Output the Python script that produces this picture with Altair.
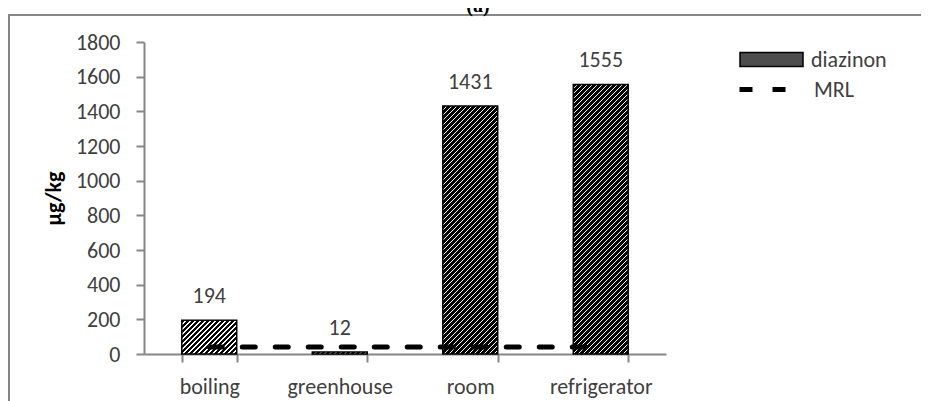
import altair as alt
import pandas as pd

categories = ["boiling", "greenhouse", "room", "refrigerator"]
diazinon = [194, 12, 1431, 1555]
mrl = [40, 40, 40, 40]
y_ticks = [0, 200, 400, 600, 800, 1000, 1200, 1400, 1600, 1800]
chart_label = "(a)"

FONT = "Carlito, Lato, sans-serif"
TXT = "#404040"
GRAY = "#868686"

W, H = 522, 312
YMAX = 1800
N = len(categories)
P_IN = 0.579
BAR_W = W / N * (1 - P_IN)


def hatch(w, h, period=5.0, black=3.3):
    L = w + h
    stops = []
    pos = 0.0
    while pos < L:
        a = pos / L
        b = min((pos + black) / L, 1.0)
        c = min((pos + period) / L, 1.0)
        stops += [
            {"offset": a, "color": "black"},
            {"offset": b, "color": "black"},
            {"offset": b, "color": "white"},
            {"offset": c, "color": "white"},
        ]
        pos += period
    d = w * w + h * h
    return {"gradient": "linear", "x1": 0, "y1": 0,
            "x2": w * L / d, "y2": h * L / d, "stops": stops}


df = pd.DataFrame({
    "category": categories,
    "value": diazinon,
    "mrl": mrl,
    "series": ["diazinon"] * N,
    "series2": ["MRL"] * N,
})

conds = []
for c, v in zip(categories, diazinon):
    h = max(v / YMAX * H, 1.0)
    conds.append({"test": f"datum.category === '{c}'", "value": hatch(BAR_W, h)})

x_scale = alt.Scale(paddingInner=P_IN, paddingOuter=P_IN / 2)
y_scale = alt.Scale(domain=[0, YMAX], nice=False)

x_axis = alt.Axis(labelAngle=0, tickBand="extent", tickSize=8, tickWidth=2,
                  tickColor=GRAY, domainColor=GRAY, domainWidth=2,
                  labelFont=FONT, labelFontSize=22, labelColor=TXT,
                  labelPadding=14)
y_axis = alt.Axis(values=y_ticks, format="d", labelOverlap=False,
                  tickCount=10, title="µg/kg", grid=False, tickSize=8,
                  tickWidth=2, tickColor=GRAY, domainColor=GRAY, domainWidth=2,
                  labelFont=FONT, labelFontSize=22, labelColor=TXT,
                  labelPadding=16, titleFont=FONT, titleFontSize=22,
                  titleFontWeight="bold", titleColor="black", titlePadding=10)


def xe():
    return alt.X("category:N", sort=categories, title=None, scale=x_scale, axis=x_axis)


def ye(field):
    return alt.Y(f"{field}:Q", title="µg/kg", scale=y_scale, axis=y_axis)


base = alt.Chart(df)

bars = base.mark_bar(stroke="black", strokeWidth=1.5).encode(
    x=xe(),
    y=ye("value"),
    fill=alt.Fill(
        "series:N",
        scale=alt.Scale(domain=["diazinon"], range=["#4d4d4d"]),
        legend=alt.Legend(
            title=None, orient="none", legendX=595, legendY=-15,
            symbolType="M-1,-0.222H1V0.222H-1Z", symbolSize=3969,
            symbolStrokeColor="black", symbolStrokeWidth=1.5,
            labelFont=FONT, labelFontSize=22, labelColor=TXT, labelOffset=7,
        ),
        condition=conds,
    ),
)

line = base.mark_line(stroke="black", strokeWidth=5, strokeCap="round").encode(
    x=xe(),
    y=ye("mrl"),
    strokeDash=alt.StrokeDash(
        "series2:N",
        scale=alt.Scale(domain=["MRL"], range=[[13, 20]]),
        legend=alt.Legend(
            title=None, orient="none", legendX=593, legendY=19,
            symbolType="stroke", symbolSize=2704, symbolStrokeWidth=5,
            symbolStrokeColor="black",
            labelFont=FONT, labelFontSize=22, labelColor=TXT, labelOffset=20,
        ),
    ),
)

labels = base.mark_text(baseline="alphabetic", dy=-17, font=FONT, fontSize=22,
                        color=TXT).encode(
    x=xe(),
    y=ye("value"),
    text=alt.Text("value:Q"),
)

deco = alt.Data(values=[{"t": chart_label}])

frame = alt.Chart(deco).mark_rect(
    fill=None, stroke=GRAY, strokeWidth=2
).encode(
    x=alt.value(-135), x2=alt.value(820),
    y=alt.value(-27), y2=alt.value(400),
)

title_txt = alt.Chart(deco).mark_text(
    font="Liberation Serif", fontSize=20, fontWeight="bold", color="black",
    baseline="alphabetic", align="center"
).encode(
    x=alt.value(334), y=alt.value(-30), text="t:N",
)

chart = alt.layer(bars, line, labels, frame, title_txt).properties(
    width=W, height=H,
    autosize=alt.AutoSizeParams(type="none"),
    padding={"left": 136, "top": 34, "right": 255, "bottom": 47},
).configure_view(stroke=None)

chart.save("out.html", embed_options={"renderer": "svg", "actions": False})
